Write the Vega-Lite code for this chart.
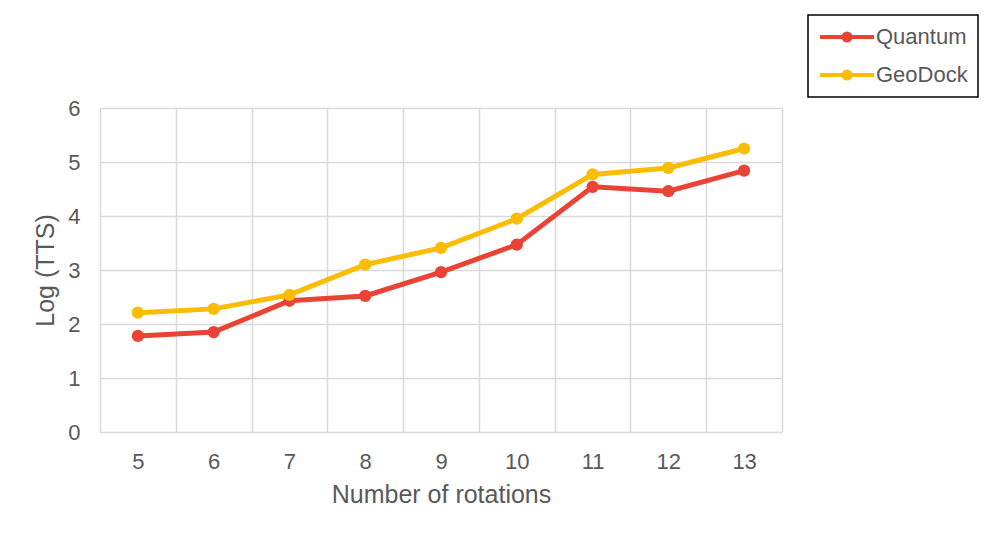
{
  "$schema": "https://vega.github.io/schema/vega-lite/v6.json",
  "width": 682,
  "height": 324,
  "autosize": {"type": "none"},
  "padding": {"left": 100, "top": 108, "right": 215, "bottom": 125},
  "background": "#ffffff",
  "config": {
    "font": "Liberation Sans",
    "view": {"stroke": null},
    "axis": {
      "labelColor": "#595959",
      "titleColor": "#595959",
      "labelFont": "Liberation Sans",
      "titleFont": "Liberation Sans",
      "titleFontWeight": "normal",
      "gridColor": "#d9d9d9",
      "gridWidth": 1.5,
      "domain": false,
      "ticks": false
    }
  },
  "data": {
    "values": [
      {"rotations": 5, "series": "Quantum", "logTTS": 1.78},
      {"rotations": 6, "series": "Quantum", "logTTS": 1.85},
      {"rotations": 7, "series": "Quantum", "logTTS": 2.43},
      {"rotations": 8, "series": "Quantum", "logTTS": 2.52},
      {"rotations": 9, "series": "Quantum", "logTTS": 2.96},
      {"rotations": 10, "series": "Quantum", "logTTS": 3.47},
      {"rotations": 11, "series": "Quantum", "logTTS": 4.54},
      {"rotations": 12, "series": "Quantum", "logTTS": 4.46},
      {"rotations": 13, "series": "Quantum", "logTTS": 4.84},
      {"rotations": 5, "series": "GeoDock", "logTTS": 2.21},
      {"rotations": 6, "series": "GeoDock", "logTTS": 2.28},
      {"rotations": 7, "series": "GeoDock", "logTTS": 2.54},
      {"rotations": 8, "series": "GeoDock", "logTTS": 3.10},
      {"rotations": 9, "series": "GeoDock", "logTTS": 3.41},
      {"rotations": 10, "series": "GeoDock", "logTTS": 3.95},
      {"rotations": 11, "series": "GeoDock", "logTTS": 4.77},
      {"rotations": 12, "series": "GeoDock", "logTTS": 4.89},
      {"rotations": 13, "series": "GeoDock", "logTTS": 5.25}
    ]
  },
  "mark": {
    "type": "line",
    "strokeWidth": 5,
    "point": {"filled": true, "size": 150, "opacity": 1}
  },
  "encoding": {
    "x": {
      "field": "rotations",
      "type": "ordinal",
      "scale": {"type": "band", "paddingInner": 0, "paddingOuter": 0},
      "axis": {
        "title": "Number of rotations",
        "labelAngle": 0,
        "labelFontSize": 22,
        "titleFontSize": 25,
        "labelPadding": 19,
        "titlePadding": 10,
        "grid": true,
        "tickBand": "extent"
      }
    },
    "y": {
      "field": "logTTS",
      "type": "quantitative",
      "scale": {"domain": [0, 6], "nice": false, "zero": true},
      "axis": {
        "title": "Log (TTS)",
        "values": [0, 1, 2, 3, 4, 5, 6],
        "labelFontSize": 22,
        "titleFontSize": 25,
        "labelPadding": 20,
        "titlePadding": 9,
        "grid": true
      }
    },
    "color": {
      "field": "series",
      "type": "nominal",
      "sort": ["Quantum", "GeoDock"],
      "scale": {"domain": ["Quantum", "GeoDock"], "range": ["#EA4335", "#FBBC04"]},
      "legend": {
        "title": null,
        "orient": "none",
        "legendX": 708,
        "legendY": -93,
        "padding": 10,
        "strokeColor": "#000000",
        "fillColor": "#ffffff",
        "labelFontSize": 22,
        "labelColor": "#595959",
        "labelFont": "Liberation Sans",
        "labelOffset": 34,
        "rowPadding": 14,
        "symbolSize": 400,
        "symbolStrokeWidth": 4,
        "symbolType": "M-1,0L4.4,0M1.55,0A0.15,0.15 0 1,0 1.85,0A0.15,0.15 0 1,0 1.55,0M1.35,0A0.35,0.35 0 1,0 2.05,0A0.35,0.35 0 1,0 1.35,0",
        "encode": {"legend": {"update": {"strokeWidth": {"value": 1.5}}}}
      }
    }
  }
}
